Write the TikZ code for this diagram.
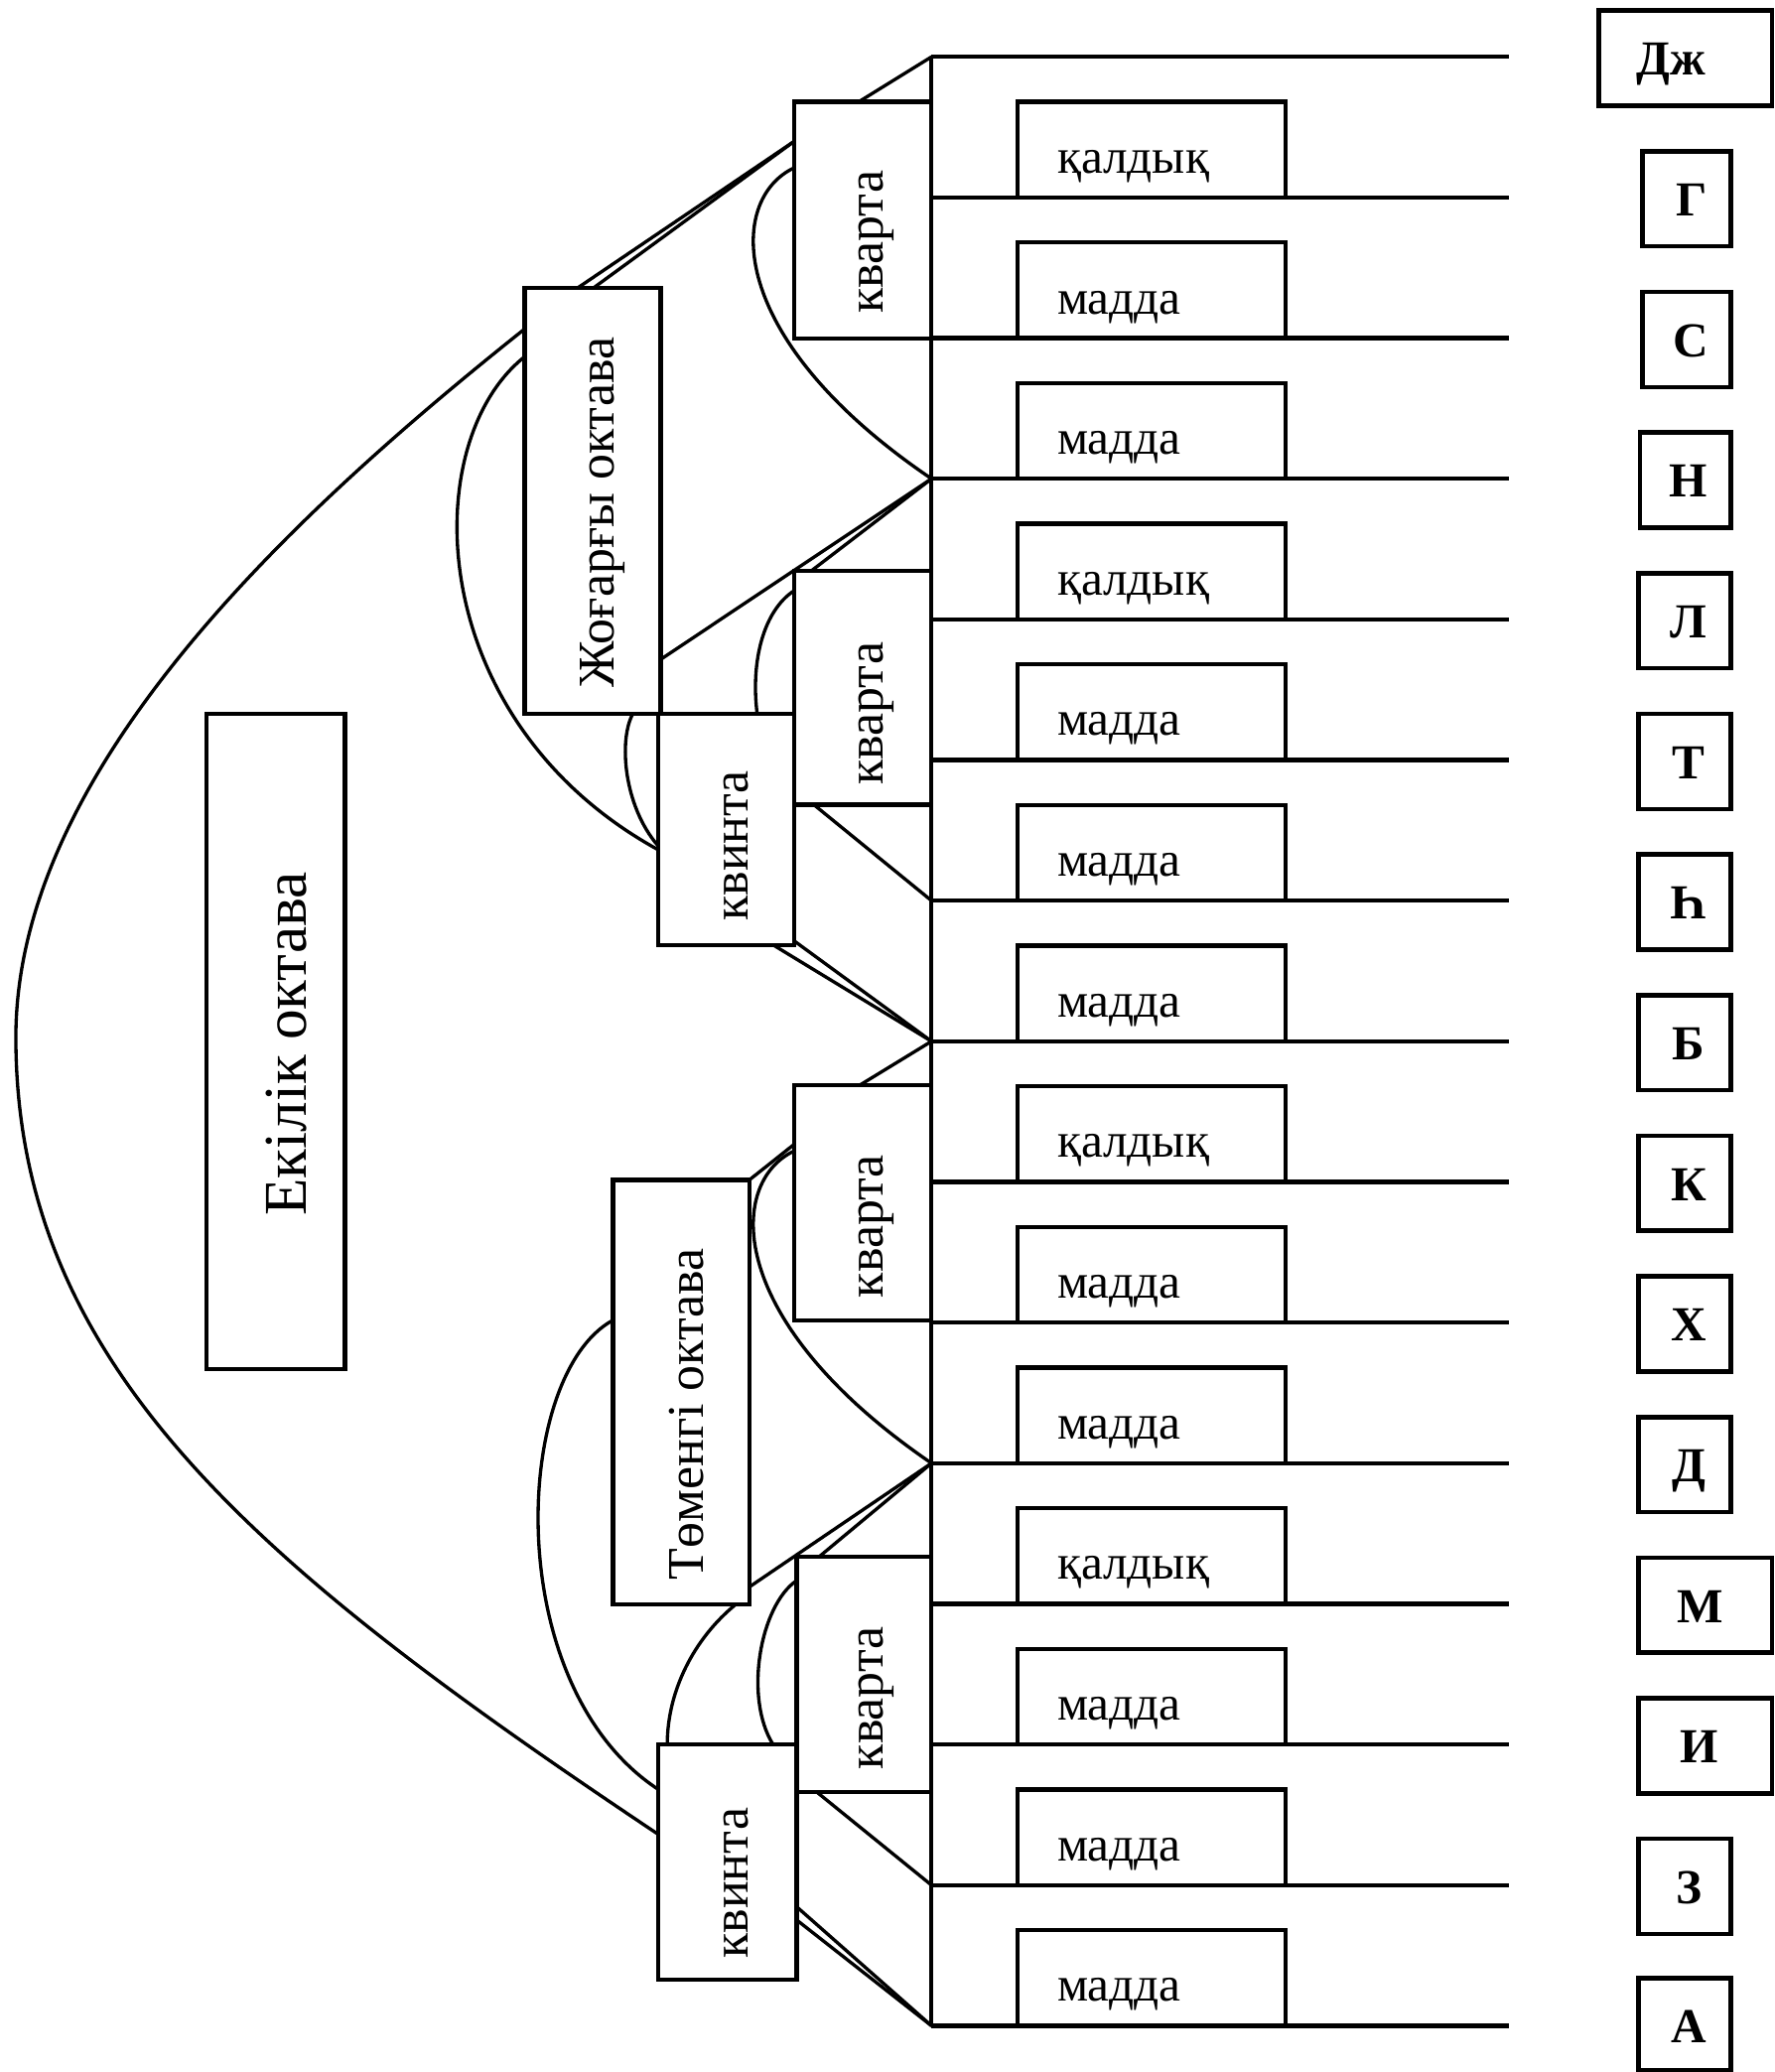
\documentclass[tikz,border=0pt]{standalone}
\usepackage{fontspec}
\setmainfont{Liberation Serif}
\newcommand\fmid{\fontsize{37}{40}\selectfont}
\newcommand\frot{\fontsize{39}{42}\selectfont}
\newcommand\fbig{\fontsize{46}{50}\selectfont}
\newcommand\flet{\fontsize{37}{40}\selectfont\bfseries}
\begin{document}
\begin{tikzpicture}[x=1pt,y=-1pt,
  box/.style={draw, line width=3.2pt, inner sep=0pt, outer sep=0pt},
  lbox/.style={draw, line width=3.4pt, inner sep=0pt, outer sep=0pt, minimum height=72pt},
  conn/.style={line width=2.5pt},
  hline/.style={line width=3.2pt},
  rtext/.style={anchor=base, rotate=90, inner sep=0pt, font=\frot}]
\useasboundingbox (0,0) rectangle (1343,1568);
\fill[white] (0,0) rectangle (1343,1568);

% trunk coordinates
\foreach \k in {0,...,14}{
  \coordinate (j\k) at (705,{43+106.43*\k});
  \coordinate (r\k) at (1142,{43+106.43*\k});
}
\draw[hline] (j0) -- (j14);
\foreach \k in {0,...,14}{ \draw[hline] (j\k) -- (r\k); }

% small text boxes
\foreach \k/\w in {0/қалдық,1/мадда,2/мадда,3/қалдық,4/мадда,5/мадда,6/мадда,7/қалдық,8/мадда,9/мадда,10/қалдық,11/мадда,12/мадда,13/мадда}{
  \node[box, minimum width=203pt, minimum height=72.4pt, anchor=south west] (b\k) at (770,{43+106.43*(\k+1)}) {};
  \node[anchor=base west, inner sep=0pt, font=\fmid] (t\k) at (800,{43+106.43*\k+88}) {\w};
}

% letter boxes
\foreach \k/\l/\cx/\tx/\bw in {0/Дж/1275.5/1265/131,1/Г/1276.5/1280/67,2/С/1276.5/1280/67,3/Н/1275.5/1278/69,4/Л/1275/1278/70,5/Т/1275/1278/70,6/Һ/1275/1278/70,7/Б/1275/1278/70,8/К/1275/1278/70,9/Х/1275/1278/70,10/Д/1275/1278/70,11/М/1290.5/1287/101,12/И/1290.5/1286/101,13/З/1275/1278/70}{
  \node[lbox, minimum width=\bw pt] (L\k) at (\cx,{44+106.43*\k}) {};
  \node[anchor=base, inner sep=0pt, font=\flet] (Lt\k) at (\tx,{57+106.43*\k}) {\l};
}
\node[lbox, minimum width=70pt, minimum height=70pt] (L14) at (1275,1532) {};
\node[anchor=base, inner sep=0pt, font=\flet] (Lt14) at (1278,1546) {А};

% structure boxes
\node[box, minimum width=105pt, minimum height=496pt] (E) at (208.5,788) {};
\node[box, minimum width=103pt, minimum height=322pt] (J) at (448.5,379) {};
\node[box, minimum width=103pt, minimum height=321pt] (T) at (515.5,1053.5) {};
\node[box, minimum width=104pt, minimum height=179pt] (K1) at (653,166.5) {};
\node[box, minimum width=104pt, minimum height=177pt] (K2) at (653,520.5) {};
\node[box, minimum width=104pt, minimum height=178pt] (K3) at (653,910) {};
\node[box, minimum width=102pt, minimum height=178pt] (K4) at (654,1267) {};
\node[box, minimum width=103pt, minimum height=175pt] (Q1) at (549.5,627.5) {};
\node[box, minimum width=105pt, minimum height=178pt] (Q2) at (550.5,1409) {};

% rotated texts
\node[rtext, font=\fbig] (Et) at (232,790) {Екілік октава};
\node[rtext] (Jt) at (465,388) {Жоғарғы октава};
\node[rtext] (Tt) at (532,1070) {Төменгі октава};
\node[rtext] (K1t) at (668,183) {кварта};
\node[rtext] (K2t) at (668,540) {кварта};
\node[rtext] (K3t) at (668,928) {кварта};
\node[rtext] (K4t) at (668,1285) {кварта};
\node[rtext] (Q1t) at (566,640) {квинта};
\node[rtext] (Q2t) at (566,1425) {квинта};

% connectors, upper half
\draw[conn] ([xshift=49pt]K1.north west) -- (j0);
\draw[conn] ([xshift=40pt]J.north west) -- ([yshift=-30pt]K1.north west);
\draw[conn] ([xshift=52pt]J.north west) -- ([yshift=-30pt]K1.north west);
\draw[conn] ([yshift=-50pt]K1.north west) .. controls (550,151) and (548,256) .. (j3);
\draw[conn] ([yshift=-52pt]J.north west) .. controls (315,335) and (320,545) .. ([yshift=-103pt]Q1.north west);
\draw[conn] ([yshift=-31pt]J.north west) .. controls (216,393) and (12,585) .. (12,785)
   .. controls (12,1035) and (197,1187) .. ([yshift=-68pt]Q2.north west);
\draw[conn] ([yshift=41pt]J.south east) -- (j3);
\draw[conn] ([xshift=13pt]K2.north west) -- (j3);
\draw[conn] ([yshift=-15pt]K2.north west) .. controls (578,462) and (568,500) .. ([xshift=75pt]Q1.north west);
\draw[conn] ([xshift=-21pt]J.south east) .. controls (468,560) and (472,610) .. ([yshift=-100pt]Q1.north west);
\draw[conn] ([xshift=15pt]K2.south west) -- (j6);
\draw[conn] ([xshift=-16pt]Q1.south east) -- (j7);
\draw[conn] ([yshift=3pt]Q1.south east) -- (j7);

% connectors, lower half
\draw[conn] ([xshift=50pt]K3.north west) -- (j7);
\draw[conn] (T.north east) -- ([yshift=-45pt]K3.north west);
\draw[conn] ([yshift=-50pt]K3.north west) .. controls (550,895) and (548,1000) .. (j10);
\draw[conn] ([yshift=-106pt]T.north west) .. controls (388,1040) and (378,1275) .. ([yshift=-34pt]Q2.north west);
\draw[conn] ([yshift=13pt]T.south east) -- (j10);
\draw[conn] ([xshift=17pt]K4.north west) -- (j10);
\draw[conn] ([yshift=-18pt]K4.north west) .. controls (575,1215) and (563,1285) .. ([xshift=87pt]Q2.north west);
\draw[conn] ([xshift=-10pt]T.south east) .. controls (525,1240) and (505,1280) .. ([xshift=7pt]Q2.north west);
\draw[conn] ([xshift=15pt]K4.south west) -- (j13);
\draw[conn] ([yshift=55pt]Q2.south east) -- (j14);
\draw[conn] ([yshift=45pt]Q2.south east) -- (j14);
\end{tikzpicture}
\end{document}
